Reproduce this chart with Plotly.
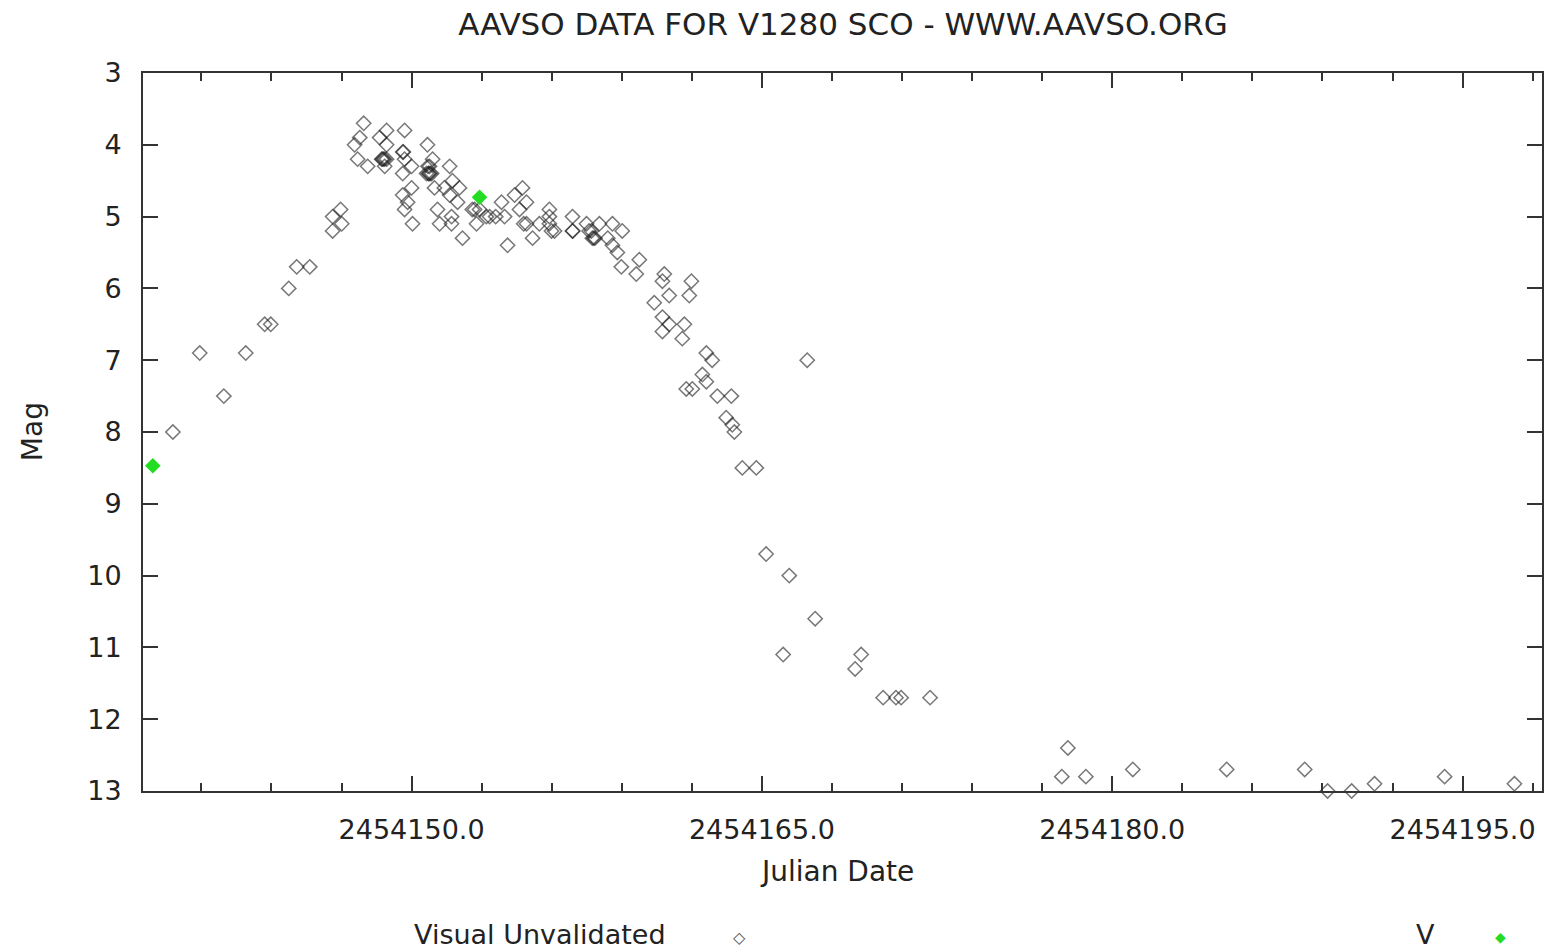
import plotly.graph_objects as go

JD0 = 2454100.0

# Visual Unvalidated observations: JD - 2454100, magnitude
vis_jd = [
    39.78, 40.93, 41.96, 42.90, 43.71, 43.97, 44.74, 45.08, 45.64,
    46.62, 46.96, 47.01, 46.62,
    47.95, 47.56, 47.78, 47.69, 48.12, 48.93, 48.63, 48.93, 48.72, 48.93, 48.85, 48.80,
    49.70, 49.62, 49.70, 50.00, 49.62, 50.00, 49.62, 49.83, 49.70, 50.04,
    50.68, 50.90, 50.64, 50.86, 50.98, 50.77, 50.75, 51.63, 51.75, 52.05, 51.63, 51.97,
    51.11, 51.20, 51.71, 51.71, 52.18,
    52.91, 52.78, 53.34, 53.85, 53.98, 54.11, 54.41, 54.75, 54.92, 54.62, 54.92, 55.18,
    55.47, 55.90, 55.90, 55.99, 56.12,
    56.89, 57.49, 56.89, 57.74, 57.80, 58.04, 58.60, 59.02, 58.60, 58.81, 58.98,
    59.75, 59.62, 60.82, 60.74, 61.03, 60.39, 61.98, 61.89, 60.74, 61.03, 61.68,
    60.74, 61.59, 62.62, 62.87, 62.45, 62.62, 61.76, 62.02, 63.09, 63.69,
    66.94, 63.47, 63.73, 63.82, 64.16, 64.76,
    65.18, 66.17, 67.28, 65.91, 69.25, 68.99, 70.19, 70.74, 70.96, 72.20,
    77.84, 78.10, 78.87, 80.88, 84.90, 88.24, 89.22, 90.25, 91.23, 94.23, 97.22,
    48.75, 48.85, 49.65, 50.70, 50.80, 51.40, 52.60, 53.20, 54.80, 55.90,
    56.90, 57.70, 57.60, 58.40, 50.72, 52.70, 53.60, 57.85,
]
vis_mag = [
    8.0, 6.9, 7.5, 6.9, 6.5, 6.5, 6.0, 5.7, 5.7,
    5.0, 4.9, 5.1, 5.2,
    3.7, 4.0, 3.9, 4.2, 4.3, 3.8, 3.9, 4.0, 4.2, 4.2, 4.3, 4.2,
    3.8, 4.1, 4.2, 4.3, 4.4, 4.6, 4.7, 4.8, 4.9, 5.1,
    4.0, 4.2, 4.4, 4.4, 4.6, 4.3, 4.4, 4.3, 4.5, 4.6, 4.7, 4.8,
    4.9, 5.1, 5.0, 5.1, 5.3,
    4.9, 5.1, 5.0, 4.8, 5.0, 5.4, 4.7, 4.6, 4.8, 4.9, 5.1, 5.3,
    5.1, 4.9, 5.0, 5.2, 5.2,
    5.0, 5.1, 5.2, 5.3, 5.3, 5.1, 5.1, 5.2, 5.4, 5.5, 5.7,
    5.6, 5.8, 5.8, 5.9, 6.1, 6.2, 5.9, 6.1, 6.4, 6.5, 6.5,
    6.6, 6.7, 6.9, 7.0, 7.2, 7.3, 7.4, 7.4, 7.5, 7.5,
    7.0, 7.8, 7.9, 8.0, 8.5, 8.5,
    9.7, 10.0, 10.6, 11.1, 11.1, 11.3, 11.7, 11.7, 11.7, 11.7,
    12.8, 12.4, 12.8, 12.7, 12.7, 12.7, 13.0, 13.0, 12.9, 12.8, 12.9,
    4.2, 4.2, 4.1, 4.3, 4.4, 4.6, 4.9, 5.0, 5.1, 5.1,
    5.2, 5.2, 5.2, 5.3, 4.4, 4.9, 5.0, 5.3,
]

# V-band observations
v_jd = [38.92, 52.91]
v_mag = [8.47, 4.73]

x_tickvals = [2454150.0, 2454165.0, 2454180.0, 2454195.0]
x_ticktext = ["2454150.0", "2454165.0", "2454180.0", "2454195.0"]
y_tickvals = [3, 4, 5, 6, 7, 8, 9, 10, 11, 12, 13]

FONT = "DejaVu Sans"
AX = "#333333"

fig = go.Figure()
fig.add_trace(go.Scatter(
    x=[JD0 + d for d in vis_jd], y=vis_mag, mode="markers",
    name="Visual Unvalidated", cliponaxis=False,
    marker=dict(symbol="diamond-open", size=11, color="rgba(30,30,30,0.6)",
                line=dict(width=1.5, color="rgba(30,30,30,0.6)")),
))
fig.add_trace(go.Scatter(
    x=[JD0 + d for d in v_jd], y=v_mag, mode="markers", name="V", cliponaxis=False,
    marker=dict(symbol="diamond", size=12, color="#22dd22", line=dict(width=0)),
))

axis_common = dict(
    showgrid=False, zeroline=False, showline=True, linecolor=AX, linewidth=2,
    mirror="ticks", ticks="inside", tickcolor=AX, tickwidth=2,
    tickfont=dict(family=FONT, size=27, color="#222222"),
)

fig.update_layout(
    width=1550, height=951,
    margin=dict(l=143, r=6, t=73, b=160),
    paper_bgcolor="white", plot_bgcolor="white",
    showlegend=False,
    title=dict(text="AAVSO DATA FOR V1280 SCO - WWW.AAVSO.ORG",
               x=(843 / 1550), xanchor="center", y=1 - 24 / 951, yanchor="middle",
               font=dict(family=FONT, size=31, color="#222222")),
    xaxis=dict(range=[2454138.5, 2454198.4], tickvals=x_tickvals, ticktext=x_ticktext,
               ticklen=15, ticklabelstandoff=14,
               minor=dict(tick0=2454150.0, dtick=3, ticks="inside", ticklen=8,
                          tickcolor=AX, tickwidth=2, showgrid=False),
               **axis_common),
    yaxis=dict(range=[13, 3], tickvals=y_tickvals, ticklen=15, ticklabelstandoff=14,
               **axis_common),
    annotations=[
        dict(text="Julian Date", xref="paper", yref="paper", x=(838 - 143) / 1401,
             y=(791 - 871) / 718, xanchor="center", yanchor="middle", showarrow=False,
             font=dict(family=FONT, size=28, color="#222222")),
        dict(text="Mag", xref="paper", yref="paper", x=(32 - 143) / 1401,
             y=(791 - 432) / 718, xanchor="center", yanchor="middle", showarrow=False,
             textangle=-90, font=dict(family=FONT, size=28, color="#222222")),
        dict(text="Visual Unvalidated", xref="paper", yref="paper", x=(541 - 143) / 1401,
             y=(791 - 934) / 718, xanchor="center", yanchor="middle", showarrow=False,
             font=dict(family=FONT, size=27, color="#222222")),
        dict(text="◇", xref="paper", yref="paper", x=(740 - 143) / 1401,
             y=(791 - 937) / 718, xanchor="center", yanchor="middle", showarrow=False,
             font=dict(family=FONT, size=16, color="#555555")),
        dict(text="V", xref="paper", yref="paper", x=(1427 - 143) / 1401,
             y=(791 - 934) / 718, xanchor="center", yanchor="middle", showarrow=False,
             font=dict(family=FONT, size=27, color="#222222")),
        dict(text="◆", xref="paper", yref="paper", x=(1502 - 143) / 1401,
             y=(791 - 937) / 718, xanchor="center", yanchor="middle", showarrow=False,
             font=dict(family=FONT, size=14, color="#22dd22")),
    ],
)

fig.write_html("out.html")
